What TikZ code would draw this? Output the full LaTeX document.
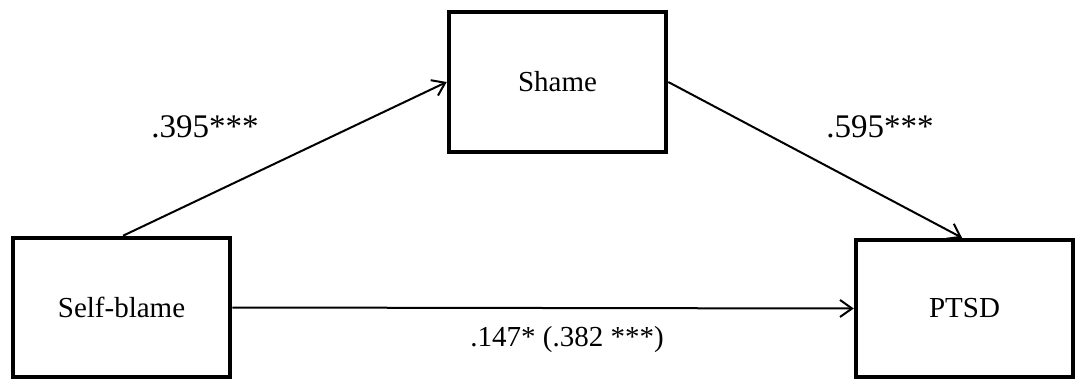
\documentclass[tikz,border=0pt]{standalone}
\usepackage{fontspec}
\setmainfont{Liberation Serif}
\usetikzlibrary{arrows.meta}
\begin{document}
\begin{tikzpicture}[x=1pt,y=-1pt,
  box/.style={draw,line width=4.5pt,minimum width=#1,inner sep=0pt},
  conn/.style={line width=2pt,-{Straight Barb[length=12pt,width=17pt,line width=2pt]}},
  lbl/.style={font=\fontsize{29}{34}\selectfont,inner sep=0pt}]
\useasboundingbox (0,0) rectangle (1076,382);
\node[box=217pt,minimum height=139pt,font=\fontsize{29}{34}\selectfont] (self) at (121.5,307.5) {Self-blame};
\node[box=217pt,minimum height=140pt,font=\fontsize{29}{34}\selectfont] (shame) at (557.5,82) {Shame};
\node[box=217pt,minimum height=137pt,font=\fontsize{29}{34}\selectfont] (ptsd) at (964.5,308.5) {PTSD};
\draw[conn] (self.north -| 123,0) -- (shame.west);
\draw[conn] (shame.east) -- (ptsd.north -| 962,0);
\draw[conn] (self.east) -- (ptsd.west);
\node[lbl,font=\fontsize{33}{38}\selectfont] (l1) at (205,127) {.395***};
\node[lbl,font=\fontsize{33}{38}\selectfont] (l2) at (880,127) {.595***};
\node[lbl] (l3) at (567,340) {.147* (.382 ***)};
\end{tikzpicture}
\end{document}
